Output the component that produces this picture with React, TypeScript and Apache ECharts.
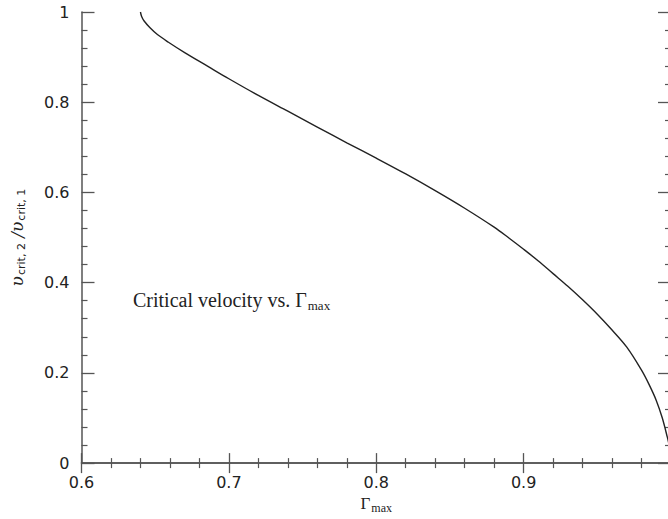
import React, { useEffect, useRef } from "react";
import * as echarts from "echarts";

const gammaMax = [0.640, 0.6408, 0.6425, 0.6465, 0.6515, 0.659, 0.670, 0.6855, 0.700, 0.720, 0.740, 0.760, 0.780, 0.800, 0.820, 0.840, 0.860, 0.880, 0.890, 0.900, 0.910, 0.920, 0.930, 0.940, 0.950, 0.960, 0.970, 0.980, 0.985, 0.990, 0.994, 0.997, 0.999, 1.000];
const vRatio = [1.000, 0.990, 0.980, 0.965, 0.950, 0.933, 0.910, 0.880, 0.852, 0.815, 0.780, 0.745, 0.710, 0.676, 0.641, 0.604, 0.565, 0.523, 0.499, 0.474, 0.448, 0.420, 0.392, 0.362, 0.330, 0.295, 0.257, 0.206, 0.175, 0.139, 0.101, 0.064, 0.035, 0.000];
const xTickLabels = ["0.6", "0.7", "0.8", "0.9"];
const yTickLabels = ["0", "0.2", "0.4", "0.6", "0.8", "1"];

export default function App() {
  const ref = useRef<HTMLDivElement>(null);
  useEffect(() => {
    if (!ref.current) return;
    const chart = echarts.init(ref.current, undefined, { renderer: "svg" });
    const axisColor = "#555";
    const labelStyle = { fontFamily: "DejaVu Sans", fontSize: 16, color: "#222" };
    const commonX = {
      type: "value" as const,
      min: 0.6,
      max: 1.0,
      interval: 0.1,
      splitLine: { show: false },
      axisLine: { show: true, lineStyle: { color: axisColor, width: 1.5 } },
      axisTick: { show: true, inside: true, length: 10, lineStyle: { color: axisColor, width: 1.3 } },
      minorTick: { show: true, splitNumber: 5, length: 5, lineStyle: { color: axisColor, width: 1.2 } },
      minorSplitLine: { show: false },
    };
    const commonY = {
      type: "value" as const,
      min: 0,
      max: 1,
      interval: 0.2,
      splitLine: { show: false },
      axisLine: { show: true, lineStyle: { color: axisColor, width: 1.5 } },
      axisTick: { show: true, inside: true, length: 13, lineStyle: { color: axisColor, width: 1.3 } },
      minorTick: { show: true, splitNumber: 5, length: 6, lineStyle: { color: axisColor, width: 1.2 } },
      minorSplitLine: { show: false },
    };
    chart.setOption({
      animation: false,
      backgroundColor: "#fff",
      grid: { left: 77, right: 9, top: 12, bottom: 47 },
      xAxis: [
        {
          ...commonX,
          position: "bottom",
          axisLabel: {
            ...labelStyle,
            margin: 11,
            showMaxLabel: false,
            formatter: (v: number) => {
              const i = Math.round((v - 0.6) / 0.1);
              return xTickLabels[i] ?? "";
            },
          },
          name: "{g|Γ}{s|max}",
          nameLocation: "middle",
          nameGap: 26,
          nameTextStyle: {
            rich: {
              g: { fontFamily: "Liberation Serif", fontSize: 17, color: "#222" },
              s: { fontFamily: "Liberation Serif", fontSize: 12, color: "#222", padding: [9, 0, 0, 1] },
            },
          },
        },
        { ...commonX, position: "top", axisLabel: { show: false } },
      ],
      yAxis: [
        {
          ...commonY,
          position: "left",
          axisLabel: {
            ...labelStyle,
            margin: 12,
            formatter: (v: number) => yTickLabels[Math.round(v / 0.2)] ?? "",
          },
          name: "{v|υ}{s|crit, 2}{v| /υ}{s|crit, 1}",
          nameLocation: "middle",
          nameRotate: 90,
          nameGap: 55,
          nameTextStyle: {
            rich: {
              v: { fontFamily: "DejaVu Serif", fontStyle: "italic", fontSize: 17, color: "#222" },
              s: { fontFamily: "DejaVu Sans", fontSize: 11, color: "#222", padding: [9, 0, 0, 1] },
            },
          },
        },
        { ...commonY, position: "right", axisLabel: { show: false } },
      ],
      graphic: [
        {
          type: "text",
          left: 133,
          top: 290,
          style: {
            text: "{t|Critical velocity vs. Γ}{s|max}",
            rich: {
              t: { fontFamily: "Liberation Serif", fontSize: 20, fill: "#222" },
              s: { fontFamily: "Liberation Serif", fontSize: 13, fill: "#222", padding: [10, 0, 0, 1] },
            },
          },
        },
      ],
      series: [
        {
          type: "line",
          data: gammaMax.map((g, i) => [g, vRatio[i]]),
          showSymbol: false,
          smooth: 0.35,
          lineStyle: { color: "#222", width: 1.4 },
        },
      ],
    });
    return () => chart.dispose();
  }, []);
  return (
    <div style={{ position: "fixed", left: 0, top: 0, width: 668, height: 519, overflow: "hidden", background: "#fff" }}>
      <div ref={ref} style={{ width: 680, height: 519 }} />
    </div>
  );
}
